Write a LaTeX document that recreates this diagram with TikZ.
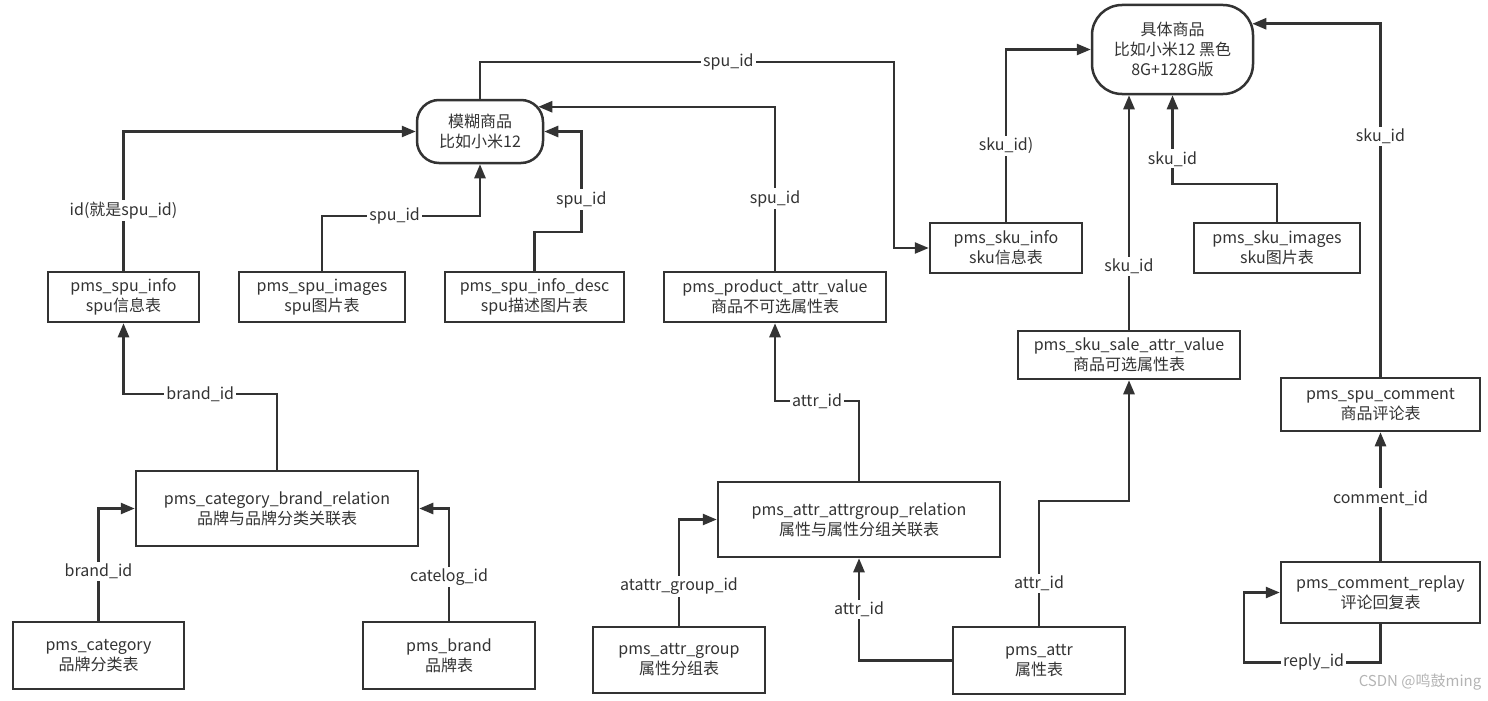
\documentclass[tikz,border=0pt]{standalone}
\usepackage{fontspec}
\setmainfont{Noto Sans CJK SC}
\usepackage{tikz}
\usetikzlibrary{arrows.meta}
\definecolor{ink}{HTML}{333333}
\definecolor{mark}{HTML}{B4B4B4}
\tikzstyle{diagram}=[x=1pt, y=-1pt, color=ink, font=\fontsize{16}{20}\selectfont]
\tikzstyle{tbl}=[rectangle, draw, line width=2.5pt, fill=white, align=center, inner sep=2pt]
\tikzstyle{ent}=[rectangle, draw, line width=2.5pt, fill=white, align=center, inner sep=2pt]
\tikzstyle{lbl}=[fill=white, inner sep=2pt]
\tikzstyle{link}=[draw, line width=2.5pt, -{Triangle[length=14pt,width=11pt]}]

\begin{document}
\begin{tikzpicture}[diagram]
	\useasboundingbox (0,0) rectangle (1488,701);

	%The two goods
	\draw (480,131.5) node[ent, rounded corners=22pt, minimum width=126pt, minimum height=63pt] (mohu) {模糊商品\\比如小米12};
	\draw (1172.5,49.5) node[ent, rounded corners=30pt, minimum width=161pt, minimum height=89pt] (juti) {具体商品\\比如小米12 黑色\\8G+128G版};

	%The spu tables
	\draw (123.5,297) node[tbl, minimum width=151pt, minimum height=50pt] (spuinfo) {pms\_spu\_info\\spu信息表};
	\draw (322,297) node[tbl, minimum width=166pt, minimum height=50pt] (spuimg) {pms\_spu\_images\\spu图片表};
	\draw (534.5,297) node[tbl, minimum width=179pt, minimum height=50pt] (spudesc) {pms\_spu\_info\_desc\\spu描述图片表};
	\draw (775,297) node[tbl, minimum width=222pt, minimum height=50pt] (prodattr) {pms\_product\_attr\_value\\商品不可选属性表};

	%The sku tables
	\draw (1006,248) node[tbl, minimum width=152pt, minimum height=50pt] (skuinfo) {pms\_sku\_info\\sku信息表};
	\draw (1277,248) node[tbl, minimum width=166pt, minimum height=50pt] (skuimg) {pms\_sku\_images\\sku图片表};
	\draw (1129,355) node[tbl, minimum width=222pt, minimum height=48pt] (saleattr) {pms\_sku\_sale\_attr\_value\\商品可选属性表};

	%The comments
	\draw (1380.5,404.5) node[tbl, minimum width=199pt, minimum height=53pt] (spucomment) {pms\_spu\_comment\\商品评论表};
	\draw (1380.5,592.5) node[tbl, minimum width=199pt, minimum height=61pt] (replay) {pms\_comment\_replay\\评论回复表};

	%Brands and categories
	\draw (277,508.5) node[tbl, minimum width=282pt, minimum height=75pt] (catbrand) {pms\_category\_brand\_relation\\品牌与品牌分类关联表};
	\draw (98.5,655.5) node[tbl, minimum width=171pt, minimum height=67pt] (category) {pms\_category\\品牌分类表};
	\draw (449,655.5) node[tbl, minimum width=172pt, minimum height=67pt] (brand) {pms\_brand\\品牌表};

	%Attributes
	\draw (859,519.5) node[tbl, minimum width=282pt, minimum height=75pt] (attrrel) {pms\_attr\_attrgroup\_relation\\属性与属性分组关联表};
	\draw (679,660) node[tbl, minimum width=172pt, minimum height=66pt] (attrgroup) {pms\_attr\_group\\属性分组表};
	\draw (1039,660.5) node[tbl, minimum width=172pt, minimum height=67pt] (attr) {pms\_attr\\属性表};

	%Links to the spu
	\draw[link] (spuinfo.north) |- node[lbl, pos=0.215] {id(就是spu\_id)} (mohu.west);
	\draw[link] (spuimg.north) -- ++(0,-55) -| node[lbl, pos=0.23] {spu\_id} (mohu.south);
	\draw[link] (spudesc.north) -- ++(0,-39) -| node[lbl, pos=0.66] {spu\_id} ([xshift=37pt]mohu.east) -- (mohu.east);
	\draw[link] (prodattr.north) |- node[lbl, pos=0.22] {spu\_id} ([xshift=-6pt, yshift=-8pt]mohu.north east);
	\draw[link] (mohu.north) |- node[lbl, pos=0.8] {spu\_id} (894,62) |- (skuinfo.west);

	%Links to the sku
	\draw[link] (skuinfo.north) |- node[lbl, pos=0.22] {sku\_id)} (juti.west);
	\draw[link] (saleattr.north) -- node[lbl, pos=0.27] {sku\_id} (saleattr.north |- juti.south);
	\draw[link] (skuimg.north) -- ++(0,-38) -| node[lbl, pos=0.64] {sku\_id} (juti.south);
	\draw[link] (spucomment.north) |- node[lbl, pos=0.34] {sku\_id} ([xshift=-2pt, yshift=-20pt]juti.north east);

	%Comments
	\draw[link] (replay.north) -- node[lbl, pos=0.49] {comment\_id} (spucomment.south);
	\draw[link] (replay.south) -- ++(0,38) -- node[lbl, pos=0.49] {reply\_id} ++(-136.5,0) |- (replay.west);

	%Brands and categories
	\draw[link] (catbrand.north) -- ++(0,-76) -| node[lbl, pos=0.25] {brand\_id} (spuinfo.south);
	\draw[link] (category.north) |- node[lbl, pos=0.22] {brand\_id} (catbrand.west);
	\draw[link] (brand.north) |- node[lbl, pos=0.195] {catelog\_id} (catbrand.east);

	%Attributes
	\draw[link] (attrrel.north) -- ++(0,-80) -| node[lbl, pos=0.25] {attr\_id} (prodattr.south);
	\draw[link] (attrgroup.north) |- node[lbl, pos=0.186] {atattr\_group\_id} (attrrel.west);
	\draw[link] (attr.west) -| node[lbl, pos=0.75] {attr\_id} (attrrel.south);
	\draw[link] (attr.north) -- node[lbl, pos=0.34] {attr\_id} ++(0,-125) -| (saleattr.south);

	%The mark
	\node[text=mark, font=\fontsize{15}{17}\selectfont] (csdn) at (1420,682) {CSDN @鸣鼓ming};
\end{tikzpicture}
\end{document}
